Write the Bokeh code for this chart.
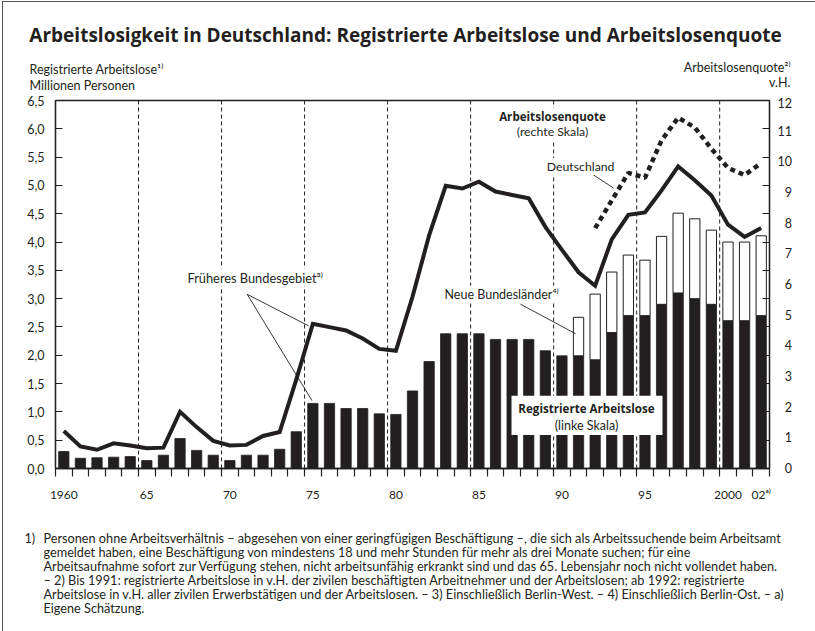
from bokeh.plotting import figure
from bokeh.layouts import column
from bokeh.models import (Range1d, LinearAxis, FixedTicker, Span, Label,
                          BoxAnnotation, CustomJSTickFormatter)
from bokeh.embed import file_html
from bokeh.resources import INLINE

# ---------------- data ----------------
years = list(range(1960, 2003))
# registered unemployed, former federal territory (millions, left scale)
west_unemployed = [0.30, 0.18, 0.19, 0.20, 0.21, 0.14, 0.235, 0.53, 0.32, 0.235,
                   0.14, 0.235, 0.235, 0.34, 0.65, 1.15, 1.15, 1.06, 1.06, 0.965,
                   0.955, 1.37, 1.89, 2.38, 2.38, 2.38, 2.28, 2.28, 2.28, 2.08,
                   1.99, 1.99, 1.92, 2.40, 2.70, 2.70, 2.90, 3.10, 3.00, 2.90,
                   2.61, 2.61, 2.70]
# registered unemployed, new Länder (millions, stacked on top)
east_years = list(range(1991, 2003))
east_unemployed = [0.68, 1.16, 1.07, 1.07, 0.98, 1.20, 1.41, 1.41, 1.31, 1.39, 1.39, 1.41]
# unemployment rate, former federal territory (%, right scale)
west_rate = [1.22, 0.72, 0.61, 0.82, 0.75, 0.66, 0.68, 1.85, 1.35, 0.90,
             0.75, 0.77, 1.06, 1.19, 2.90, 4.72, 4.61, 4.50, 4.24, 3.90,
             3.84, 5.60, 7.60, 9.22, 9.13, 9.35, 9.03, 8.92, 8.81, 7.88,
             7.13, 6.40, 5.96, 7.47, 8.27, 8.35, 9.07, 9.85, 9.40, 8.90,
             7.95, 7.55, 7.84]
# unemployment rate, Germany (%, right scale)
de_years = list(range(1992, 2003))
de_rate = [7.84, 8.74, 9.64, 9.48, 10.70, 11.44, 11.12, 10.43, 9.80, 9.57, 9.96]

left_ticks = [0.0, 0.5, 1.0, 1.5, 2.0, 2.5, 3.0, 3.5, 4.0, 4.5, 5.0, 5.5, 6.0, 6.5]
right_ticks = [0, 1, 2, 3, 4, 5, 6, 7, 8, 9, 10, 11, 12]
x_tick_years = [1960, 1965, 1970, 1975, 1980, 1985, 1990, 1995, 2000, 2002]
x_tick_labels = ["1960", "65", "70", "75", "80", "85", "90", "95", "2000", "02ᵃ⁾"]

footnote_lines = [
    "Personen ohne Arbeitsverhältnis – abgesehen von einer geringfügigen Beschäftigung –, die sich als Arbeitssuchende beim Arbeitsamt",
    "gemeldet haben, eine Beschäftigung von mindestens 18 und mehr Stunden für mehr als drei Monate suchen; für eine",
    "Arbeitsaufnahme sofort zur Verfügung stehen, nicht arbeitsunfähig erkrankt sind und das 65. Lebensjahr noch nicht vollendet haben.",
    "– 2) Bis 1991: registrierte Arbeitslose in v.H. der zivilen beschäftigten Arbeitnehmer und der Arbeitslosen; ab 1992: registrierte",
    "Arbeitslose in v.H. aller zivilen Erwerbstätigen und der Arbeitslosen. – 3) Einschließlich Berlin-West. – 4) Einschließlich Berlin-Ost. – a)",
    "Eigene Schätzung.",
]

# ---------------- layout (page pixels) ----------------
INK = "#231f20"
FONT = "Lato"
BOLD_FONT = "Open Sans"
OX, OY = 3, 2                 # content origin inside the page border
W = 815 - OX                  # content width
TOP_H = 93                    # header strip
MAIN_TOP_B, MAIN_BOT_B = 5, 30
F_L, F_R, F_T, F_B = 55, 769, 100, 474   # frame edges on the page
MAIN_H = MAIN_TOP_B + (F_B - F_T) + MAIN_BOT_B
BOT_H = 631 - OY - TOP_H - MAIN_H
MAIN_Y0 = OY + TOP_H
BOT_Y0 = MAIN_Y0 + MAIN_H

X0, X1 = years[0] - 0.5, years[-1] + 0.5
Y1 = 6.5
R1 = 12


def fx(px):   # page pixel -> data x of the main chart
    return X0 + (px - F_L) * (X1 - X0) / (F_R - F_L)


def fy(py):   # page pixel -> data y (left scale) of the main chart
    return (F_B - py) * Y1 / (F_B - F_T)


def text_fig(h):
    f = figure(frame_width=W, frame_height=h, x_range=Range1d(0, W), y_range=Range1d(h, 0),
               min_border=0, x_axis_location=None, y_axis_location=None,
               output_backend="svg", toolbar_location=None,
               outline_line_color=None, background_fill_color="white",
               border_fill_color="white", frame_align=False)
    f.grid.visible = False
    return f


def label(fig, x, y, text, size=12.5, bold=False, align="left", bg=False):
    l = Label(x=x, y=y, text=text, text_font=BOLD_FONT if bold else FONT,
              text_font_size=f"{size}px", text_font_style="bold" if bold else "normal",
              text_align=align, text_baseline="middle", text_color=INK)
    if bg:
        l.background_fill_color = "white"
        l.padding = 1
    fig.add_layout(l)


# ---------------- header ----------------
top = text_fig(TOP_H)


def tlab(px, py, text, **kw):
    label(top, px - OX, py - OY, text, **kw)


tlab(405, 34, "Arbeitslosigkeit in Deutschland: Registrierte Arbeitslose und Arbeitslosenquote",
     size=19, bold=True, align="center")
tlab(29, 69, "Registrierte Arbeitslose¹⁾", size=12.5)
tlab(29, 85, "Millionen Personen", size=12.5)
tlab(790, 67, "Arbeitslosenquote²⁾", size=12.5, align="right")
tlab(790, 82, "v.H.", size=12.5, align="right")

# ---------------- main chart ----------------
p = figure(width=W, height=MAIN_H,
           min_border_left=F_L - OX, min_border_right=W - (F_R - OX),
           min_border_top=MAIN_TOP_B, min_border_bottom=MAIN_BOT_B,
           x_range=Range1d(X0, X1), y_range=Range1d(0, Y1),
           output_backend="svg", toolbar_location=None,
           background_fill_color="white", border_fill_color="white")
p.extra_y_ranges = {"rate": Range1d(0, R1)}
p.xgrid.visible = False
p.ygrid.visible = False
p.outline_line_color = INK
p.outline_line_width = 1.3

# dashed 5-year separators
for yv in x_tick_years[1:-1]:
    p.add_layout(Span(location=yv - 0.5, dimension="height", line_color=INK,
                      line_width=1, line_dash="4 3", level="underlay"))

# bars
p.vbar(x=years, top=west_unemployed, width=0.62, fill_color=INK, line_color=INK, line_width=0.8)
east_bottom = west_unemployed[years.index(east_years[0]):]
east_top = [b + e for b, e in zip(east_bottom, east_unemployed)]
p.vbar(x=east_years, bottom=east_bottom, top=east_top, width=0.62,
       fill_color="white", line_color=INK, line_width=1)

# rate lines
p.line(years, west_rate, y_range_name="rate", line_width=4, line_color=INK, line_join="miter")
p.line(de_years, de_rate, y_range_name="rate", line_width=4.5, line_color=INK, line_dash="5 4")

# axes
xa = p.xaxis[0]
xa.ticker = FixedTicker(ticks=x_tick_years, minor_ticks=[y - 0.5 for y in years] + [X1])
xa.major_label_overrides = {k: v for k, v in zip(x_tick_years, x_tick_labels)}
xa.major_tick_in = 0
xa.major_tick_out = 0
xa.minor_tick_in = 0
xa.minor_tick_out = 8
xa.minor_tick_line_color = INK
xa.minor_tick_line_width = 1.2
xa.major_label_standoff = 10
xa.major_label_text_font = FONT
xa.major_label_text_font_size = "12px"
xa.major_label_text_color = INK
xa.axis_line_color = INK
xa.axis_line_width = 1.3

ya = p.yaxis[0]
ya.ticker = FixedTicker(ticks=left_ticks, minor_ticks=[])
ya.formatter = CustomJSTickFormatter(code="return tick.toFixed(1).replace('.', ',')")
ya.major_tick_in = 7
ya.major_tick_out = 0
ya.major_tick_line_color = INK
ya.major_tick_line_width = 1.2
ya.minor_tick_in = 0
ya.minor_tick_out = 0
ya.major_label_standoff = 11
ya.major_label_text_font = FONT
ya.major_label_text_font_size = "12.5px"
ya.major_label_text_color = INK
ya.axis_line_color = INK
ya.axis_line_width = 1.3

ra = LinearAxis(y_range_name="rate",
                ticker=FixedTicker(ticks=right_ticks,
                                   minor_ticks=[t * R1 / Y1 for t in left_ticks]))
# single digits padded with a figure space so that the labels line up on the right
ra.formatter = CustomJSTickFormatter(code="return (tick < 10 ? '\\u2007' : '') + tick.toFixed(0)")
ra.major_tick_in = 0
ra.major_tick_out = 0
ra.minor_tick_in = 7
ra.minor_tick_out = 0
ra.minor_tick_line_color = INK
ra.minor_tick_line_width = 1.2
ra.major_label_standoff = 8
ra.major_label_text_font = FONT
ra.major_label_text_font_size = "12.5px"
ra.major_label_text_color = INK
ra.axis_line_color = INK
ra.axis_line_width = 1.3
p.add_layout(ra, "right")


def mlab(px, py, text, **kw):
    label(p, fx(px), fy(py), text, **kw)


# box behind "Registrierte Arbeitslose"
p.add_layout(BoxAnnotation(left=fx(511), right=fx(662), bottom=fy(440), top=fy(400),
                           fill_color="white", fill_alpha=1, line_alpha=0))

# leader lines
lead_x0 = [fx(246.7), fx(246.7), fx(520), fx(592)]
lead_y0 = [fy(297), fy(297), fy(307), fy(175)]
lead_x1 = [fx(308), fx(311.5), fx(575), fx(613)]
lead_y1 = [fy(329), fy(405), fy(337), fy(189)]
p.segment(x0=lead_x0, y0=lead_y0, x1=lead_x1, y1=lead_y1, line_color=INK, line_width=0.9)

mlab(552, 116, "Arbeitslosenquote", size=11.6, bold=True, align="center", bg=True)
mlab(552, 132, "(rechte Skala)", size=12.3, align="center", bg=True)
mlab(615, 167, "Deutschland", size=12.3, align="right", bg=True)
mlab(186, 280, "Früheres Bundesgebiet³⁾", size=12.8, bg=True)
mlab(443, 297, "Neue Bundesländer⁴⁾", size=12.5, bg=True)
mlab(586, 413, "Registrierte Arbeitslose", size=11.6, bold=True, align="center")
mlab(586, 430, "(linke Skala)", size=12.5, align="center")

# ---------------- footnotes ----------------
bot = text_fig(BOT_H)


def blab(px, py, text, **kw):
    label(bot, px - OX, py - BOT_Y0, text, **kw)


blab(24, 537, "1)", size=12.7)
for i, line in enumerate(footnote_lines):
    blab(43, 537 + 14 * i, line, size=12.7)

page = column(top, p, bot, spacing=0,
              styles={"margin-left": "2px", "margin-top": "1px",
                      "border-left": "1px solid #555", "border-top": "1px solid #555"})

open("out.html", "w").write(file_html(page, INLINE))
